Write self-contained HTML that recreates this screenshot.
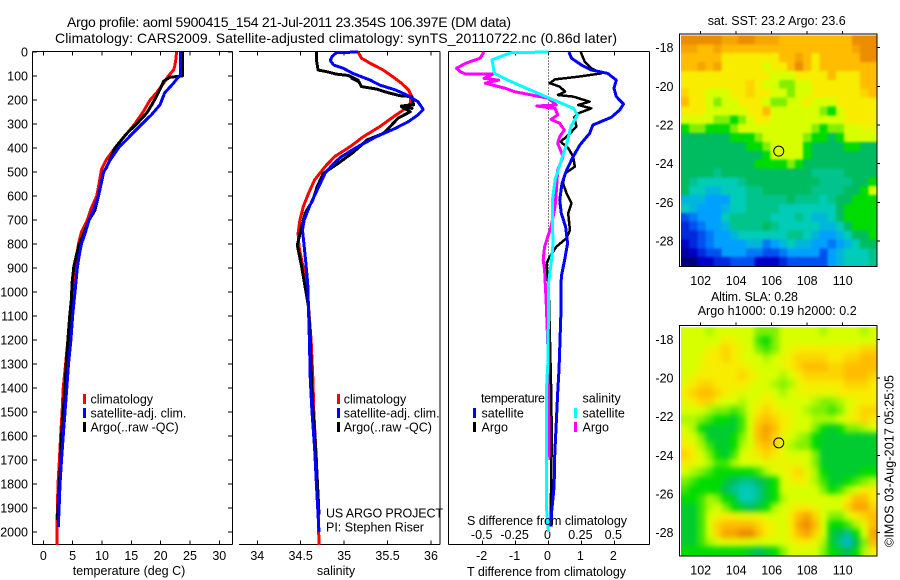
<!DOCTYPE html>
<html lang="en">
<head>
<meta charset="utf-8">
<title>Argo profile 5900415_154</title>
<style>
html,body{margin:0;padding:0;background:#fff;}
svg{display:block;}
text{font-family:"Liberation Sans",sans-serif;font-size:12px;fill:#000;}
.ttl{font-size:14px;}
.lbl{font-size:12.5px;}
</style>
</head>
<body>
<svg id="chart" xmlns="http://www.w3.org/2000/svg" width="900" height="580" viewBox="0 0 900 580">
<defs>
<filter id="sst-blur" x="-10%" y="-10%" width="120%" height="120%" color-interpolation-filters="sRGB"><feGaussianBlur stdDeviation="1.3"/></filter>
<filter id="sla-blur" x="-10%" y="-10%" width="120%" height="120%" color-interpolation-filters="sRGB"><feGaussianBlur stdDeviation="3"/></filter>
<clipPath id="sst-map-clip"><rect x="681" y="35.5" width="195.5" height="230.5"/></clipPath>
<clipPath id="sla-map-clip"><rect x="681" y="327.2" width="195.5" height="228.3"/></clipPath>
</defs>
<rect x="0" y="0" width="900" height="580" fill="#fff"/>
<g id="plots"></g>
<text class="ttl" x="67" y="27" textLength="444">Argo profile: aoml 5900415_154 21-Jul-2011 23.354S 106.397E (DM data)</text>
<text class="ttl" x="55" y="43" textLength="562">Climatology: CARS2009. Satellite-adjusted climatology: synTS_20110722.nc (0.86d later)</text>

<text class="lbl" x="129" y="575" text-anchor="middle">temperature (deg C)</text>
<text class="lbl" x="336" y="575" text-anchor="middle">salinity</text>
<text class="lbl" x="467" y="576" textLength="159">T difference from climatology</text>
<text class="lbl" x="467" y="525" textLength="160">S difference from climatology</text>

<g>
<rect x="83" y="394" width="3" height="10" fill="#f00"/>
<text class="lbl" x="90.5" y="403.5">climatology</text>
<rect x="83" y="408" width="3" height="10" fill="#00f"/>
<text class="lbl" x="90.5" y="417.5">satellite-adj. clim.</text>
<rect x="83" y="422" width="3" height="10" fill="#000"/>
<text class="lbl" x="90.5" y="431.5">Argo(..raw -QC)</text>
</g>
<g>
<rect x="337" y="394" width="3" height="10" fill="#f00"/>
<text class="lbl" x="343.7" y="403.5">climatology</text>
<rect x="337" y="408" width="3" height="10" fill="#00f"/>
<text class="lbl" x="343.7" y="417.5">satellite-adj. clim.</text>
<rect x="337" y="422" width="3" height="10" fill="#000"/>
<text class="lbl" x="343.7" y="431.5">Argo(..raw -QC)</text>
</g>
<g>
<text class="lbl" x="481" y="402.5" textLength="64">temperature</text>
<rect x="473" y="408" width="3" height="10" fill="#00f"/>
<text class="lbl" x="481.5" y="417.5">satellite</text>
<rect x="473" y="422" width="3" height="10" fill="#000"/>
<text class="lbl" x="481.5" y="431.5">Argo</text>
<text class="lbl" x="582.5" y="402.5">salinity</text>
<rect x="574" y="408" width="3" height="10" fill="#0ff"/>
<text class="lbl" x="582.5" y="417.5">satellite</text>
<rect x="574" y="422" width="3" height="10" fill="#f0f"/>
<text class="lbl" x="582.5" y="431.5">Argo</text>
</g>
<text class="lbl" x="326" y="517.5" textLength="117">US ARGO PROJECT</text>
<text class="lbl" x="326" y="531.7">PI: Stephen Riser</text>

<text class="lbl" x="707.7" y="25" textLength="138">sat. SST: 23.2  Argo: 23.6</text>
<text class="lbl" x="711" y="301" textLength="87">Altim. SLA: 0.28</text>
<text class="lbl" x="697.7" y="315" textLength="159">Argo h1000: 0.19 h2000: 0.2</text>
<text class="lbl" transform="translate(893.5 547) rotate(-90)" textLength="172">©IMOS 03-Aug-2017 05:25:05</text>
</svg>
<script>
// ---- shared depth axis ticks
const depthTicks = [0,100,200,300,400,500,600,700,800,900,1000,1100,1200,1300,1400,1500,1600,1700,1800,1900,2000];
const tempTicks = [0,5,10,15,20,25,30];
const salTicks = [34,34.5,35,35.5,36];
const salTickLabels = ['34','34.5','35','35.5','36'];
const tDiffTicks = [-2,-1,0,1,2];
const tDiffLabels = ['-2','-1','0','1','2'];
const sDiffTicks = [-0.5,-0.25,0,0.25,0.5];
const sDiffLabels = ['-0.5','-0.25','0','0.25','0.5'];
const lonTicks = [102,104,106,108,110];
const latTicks = [-18,-20,-22,-24,-26,-28];
const profileLon = [106.397];
const profileLat = [-23.354];

// ---- temperature panel
const tempClimDepth = [0,30,60,75,100,130,170,200,250,300,350,400,450,490,550,600,650,700,750,800,850,900,1000,1100,1200,1300,1400,1500,1600,1700,1800,1900,2000,2054];
const tempClimValue = [22.7,22.6,22.4,22.2,21.3,20.5,19.3,18.2,17,15.6,13.9,12.2,10.7,9.9,9.5,9.1,8.2,7.5,6.5,6,5.7,5.4,5.1,4.6,4.2,3.8,3.4,3.2,2.95,2.75,2.5,2.4,2.3,2.3];
const tempSatDepth = [0,95,105,130,170,220,260,300,350,400,450,500,550,600,650,700,750,800,850,900,1000,1100,1200,1300,1400,1500,1600,1700,1800,1900,1980];
const tempSatValue = [23.35,23.35,23,22.2,20.7,19.9,18.5,16.8,14.8,12.8,11.4,10.3,9.8,9.4,8.7,7.8,7.2,6.5,6.1,5.8,5.4,5,4.7,4.3,4,3.7,3.4,3.1,2.85,2.7,2.55];
const tempArgoDepth = [0,100,105,122,150,185,220,255,300,340,400,480,500,590,660,700,755,810,850,895,965,1025,1100,1200,1300,1400,1500,1600,1700,1800,1900,1950];
const tempArgoValue = [23.7,23.7,21.6,20.5,20,19.3,18.5,17.6,15.9,14.2,12.2,10.8,10.3,9.5,8.8,7.8,6.9,6,5.6,5.2,4.9,4.8,4.5,4.2,3.9,3.7,3.4,3.1,2.95,2.75,2.5,2.4];

// ---- salinity panel
const salClimDepth = [0,26,47,75,103,130,158,179,214,242,269,311,353,394,436,478,533,589,644,700,756,811,867,950,1061,1200,1365,1500,1700,1900,2054];
const salClimValue = [35.16,35.2,35.3,35.45,35.56,35.66,35.74,35.77,35.76,35.68,35.57,35.41,35.22,35.07,34.89,34.78,34.66,34.59,34.53,34.49,34.47,34.48,34.51,34.56,34.59,34.62,34.64,34.65,34.68,34.7,34.71];
const salSatDepth = [0,3,19,36,54,68,89,117,138,158,179,207,239,262,290,318,353,394,436,464,506,575,644,700,742,811,881,964,1068,1200,1365,1500,1650,1800,2000];
const salSatValue = [35.16,34.91,34.86,34.84,34.88,34.99,35.1,35.3,35.41,35.59,35.72,35.85,35.91,35.85,35.74,35.59,35.37,35.16,34.97,34.88,34.78,34.69,34.6,34.54,34.52,34.54,34.56,34.58,34.59,34.6,34.61,34.63,34.66,34.68,34.71];
const salArgoDepth = [0,33,75,82,92,98,117,110,124,144,154,168,182,186,220,225,235,228,249,276,311,339,367,394,422,464,506,561,617,672,728,804,839,894,978,1061,1200,1435,1575,1710,1850,1928];
const salArgoValue = [34.68,34.68,34.7,34.8,34.91,35.05,35.16,35.09,35.17,35.2,35.37,35.49,35.64,35.78,35.8,35.66,35.78,35.66,35.76,35.62,35.53,35.45,35.26,35.18,35.09,34.93,34.76,34.69,34.64,34.55,34.51,34.46,34.48,34.51,34.55,34.59,34.61,34.63,34.66,34.68,34.7,34.71];

// ---- difference panel
const dTempSatDepth = [0,26,54,75,89,117,151,186,217,242,272,304,339,388,436,492,547,617,672,728,797,867,936,1019,1075,1200,1325,1394,1533,1672,1811,1922,1978];
const dTempSatValue = [0.62,0.7,1,1.3,1.8,2.06,1.99,2.06,2.28,2.16,1.91,1.35,1.25,0.95,0.75,0.55,0.41,0.34,0.39,0.52,0.58,0.49,0.39,0.38,0.38,0.35,0.32,0.29,0.24,0.19,0.17,0.09,0.07];
const dTempArgoDepth = [0,40,68,89,103,114,130,144,165,179,186,207,221,235,256,272,311,339,374,401,436,478,506,547,589,631,672,742,776,811,853,881,964,1050,1120,1400,1600,1900,1950];
const dTempArgoValue = [0.98,1.1,1.3,1.6,0.9,0.19,0.04,0.34,0.5,0.29,0.75,1.25,0.9,1.3,0.9,0.78,0.85,0.65,0.37,0.6,0.75,0.8,0.5,0.44,0.55,0.7,0.6,0.65,0.55,0.24,0.04,-0.06,-0.01,0.02,0.03,0.08,0.1,0.07,0.07];
const dSalSatDepth = [0,3,8,33,61,89,117,151,179,207,235,262,311,380,464,533,617,714,797,881,964,1075,1300,1400,1900,2000];
const dSalSatValue = [0,-0.28,-0.31,-0.43,-0.42,-0.41,-0.31,-0.17,-0.05,0.07,0.19,0.22,0.17,0.14,0.09,0.05,0.03,0.03,0.035,0.02,0,0,-0.005,-0.015,-0.015,0];
const dSalArgoDepth = [0,26,47,68,82,92,92,110,117,130,151,165,179,193,221,225,235,262,281,297,325,353,380,436,492,575,644,728,811,867,908,1019,1075,1300,1700];
const dSalArgoValue = [-0.49,-0.52,-0.63,-0.7,-0.67,-0.63,-0.42,-0.49,-0.38,-0.48,-0.33,-0.26,-0.13,0,0.06,-0.09,0.05,0.07,0.02,0.085,0.12,0.085,0.07,0.11,0.07,0.06,0.05,0.02,-0.03,-0.04,-0.03,-0.02,-0.015,0,0.01];

// ---- SST map: colour-scale level per cell (rows north to south)
const sstRows = [
[11,11,11,11,11,10.5,10.5,11,11,10.5,10.5,10.5,10,10,10,10,10,10,10,10,10,11,11,11],
[10.5,10.5,10,10,10.5,10,10,10,10,10,10,10,10,10,10,10,10,10,10,10,10,10.5,11,11],
[10,10,10,10,10,9,9,9,9,9,9,9,10,10,10.5,10,9,10,10,10,10,10,11,11],
[10,10,10.5,10,10.5,9,9,9,9,9,8,9,9,10,11,10,9,10,10,10,10,10,10,10],
[9,9,9,9,9,9,9,9,9,9,9,8,8,8,9,9,9,9,10,9,9,9,10,10],
[9,9,9,9,9,9,9,9,9.5,9,8,8,7,7,8,8,9,9,9,9,9,9,10,10],
[9.5,9,9,8,8,8,9,9,9.5,9,9,8,8,7,8,8,9,9,9,9,9,9,9.5,10],
[10,9,9,8,7,8,8,9,9,9,8,7,7,8,8,9,8,8,8,9,9,9,9,9],
[9,9,9,8,8,8,8,8,9,9,10,8,8,8,8,8,8,7,6,8,9,9,9,9],
[8,8,8,8,7,7,6,7,8,9,9,8,8,8,8,8,8,8,8,8,9,9,9,9],
[6,7,7,6,6,6,7,8,8,8,8,8,8,8,8,8,7,6,7,7,8,8,8.5,8.5],
[5,5,5,5,5,5,6,6,6,7,8,8,8,8,8,7,6,6,5,6,8,8,8,8],
[5,5,5,5,5,5,5,5,6,6,7,8,8,8,8,6,5,5,5,5,6,6,5,5],
[5,5,5,5,5,5,5,5,5,5,6,8,8,8,8,6,5,5,5,5,5,5,5,5],
[5,5,5,5,5,5,5,5,5,6,6,6,6,7,6,5,5,5,5,5,5,5,5,5],
[5,5,5,5,4.5,5,5,5,5,5,5,5,5,5,5,5,4.5,4.5,4.5,4.5,5,5,5,5],
[5,4.5,4,4,4,4,4,4.5,5,5,5,5,5,5,5,5,5,4.5,4.5,4.5,4.5,5,5,6],
[5,4,4,3.5,3.5,4,4,4,4.5,4.5,5,5,5,5,5,5,4.5,4.5,4.5,4.5,5,5,6,8],
[3.5,3.5,3.5,3,3,3,4,4,4.5,4.5,4.5,4.5,4.5,5,4.5,4.5,4.5,4,4.5,5,5,6,6,6],
[4,3.5,3,3,3,3.5,4,4,4.5,4.5,4.5,4.5,4,4,4,4,4,4,4,5,6,6,6,6],
[2,2.5,3,3,3,4,4.5,4.5,4.5,4.5,4.5,4,4,4,4.5,4,3.5,3.5,4,5,6,6,6,6],
[1.5,2,2.5,3,3,3.5,4.5,4.5,4.5,4.5,5,4.5,4,4,4,4,4,3.5,3.5,4,5,6,6,6],
[1.5,1.5,2,2.5,3,3,3.5,4,4,4,4,4,4,4.5,4.5,4,3.5,3,3,3.5,4,5,5,6],
[1,1.5,2,2.5,3,3,3,3,3.5,3.5,2.5,3,3.5,4,3.5,3.5,3,3,2.5,3,3.5,4,5,5],
[0.5,1,1.5,2,2,3,3,3,2.5,2.5,2,2,2.5,3,3,3,3,2,3,3.5,4,4,4,4.5],
[0,0,1,1,1.5,1.5,2,2,2,1,1,1,1.5,2,2,2,2,2,3,3.5,4,4,4,4.5]
];

// ---- sea-level anomaly map: colour-scale level per cell (rows north to south)
const slaRows = [
[8,8,8,7.5,8,8,8,8,8,7,7,7,8,8,8,8,8,7.5,8,8,8,8,7.5,8],
[8,8,8,8,8,9,8.5,8,8,6.5,6,7,8,8,8,8,8,8,8,8,8,8,8,8],
[8,8,8,8.5,9,9.5,9,8.5,8,7,6.5,7,8,8.5,9,9,9,9,9,9,9,9,9.5,9.5],
[8,8,8.5,9,9,9.5,9,8.5,8,8,7.5,8,8.5,9,9.5,9.5,9.5,9.5,9,9,9.5,9.5,10,10],
[8,8,8.5,9,9,9,9,9,8.5,8,8,8,8.5,9,9.5,10,10,10,9.5,9.5,10,10,10,10],
[8,8.5,9,9,9,9,9,9.5,9,8.5,8,8,7.5,8,9,9.5,9.5,9.5,9.5,9.5,10,10,10,9.5],
[8.5,9,9.5,9.5,9,9,9,9,8.5,8,8,7.5,7,7.5,8.5,9,9,9,9,9,9.5,9.5,9.5,9],
[9,9.5,10,10,9.5,9,8.5,8.5,8,8,8.5,8,7.5,8,8.5,8.5,8.5,8.5,8.5,9,9,9,9,9],
[8.5,9,9.5,9.5,8.5,8,8,7.5,8,8.5,9,8.5,8,8,8,8,7.5,7,7,7.5,8,8.5,9,9],
[8,8,8,7.5,7,7,6.5,7,8,9,9.5,9,8.5,8.5,8,7.5,7,7,6.5,7,8,9,9.5,9.5],
[7.5,7.5,7,6.5,6,6,5.5,6.5,8,9.5,10,9.5,9,8.5,8,8,7.5,7.5,7.5,8,8.5,9,9.5,9],
[8,7.5,6,5.5,5.5,5.5,5.5,6.5,8,10,10.5,10,9,8.5,8,8,7,6,5.5,6,7,7,7.5,8],
[8.5,8,7,5.5,5.5,5.5,6,7,8,10,10.5,9.5,8.5,8,7.5,7,6,5.5,5.5,5.5,5.5,5.5,5.5,5.5],
[9,8.5,7.5,6.5,5.5,5.5,6,7.5,8,9.5,10,9.5,8.5,7.5,7,7,6,5.5,5.5,5.5,5.5,5.5,5.5,5.5],
[9.5,9,8,7,6,5.5,6.5,8,8.5,9,9.5,9,8.5,8,8,8,7,5.5,5.5,5.5,5.5,5.5,5.5,5.5],
[9,8.5,8,7.5,6.5,6.5,7.5,8,8,8,8.5,8.5,8.5,8.5,8.5,8,7,5.5,5.5,5.5,5.5,5.5,5.5,5.5],
[8,7.5,7,6.5,6,6,6,6,6,6.5,7.5,8,8.5,9,9.5,8.5,7.5,6,5.5,5.5,5.5,5.5,6,6],
[7,6.5,6,6,6,5.5,5,4.5,4.5,5,5.5,6,8,8.5,9,8.5,7.5,6.5,5.5,5.5,6,6.5,7,7.5],
[6.5,6,6,6,6,5,4.5,4,4,4.5,5.5,6,8,8,8,8,8,7,6,6.5,7.5,8,9,9],
[6,6,6.5,7.5,7,6,5.5,4,4,4.5,5.5,6,7.5,8,8,8,8,8,8,8,9,10,10,9],
[5.5,5.5,6.5,7.5,8,7,6,5.5,5,5.5,6,7.5,8,8.5,9,9,8.5,8,8,8,9.5,10.5,10.5,9.5],
[5.5,5.5,6.5,8,8.5,9,9,8.5,8.5,8.5,8,8,8,9,10,10.5,9.5,8,7,7,8,9,9.5,10],
[5.5,5.5,6.5,8,9.5,10,10,10,10,9.5,9,8.5,8,9,10.5,11,10,8,6,6,6.5,7.5,8.5,10],
[5.5,5.5,6.5,8,9.5,10.5,10.5,11,11,10,9,8.5,8,9,10,10.5,9.5,8,5.5,5,4.5,6,8,10.5],
[5.5,5.5,6.5,7.5,8,8.5,8.5,8.5,8,8,8,8,8,8.5,9,9,8.5,7.5,5.5,4.5,3.5,5,7,10],
[6,6,6,6,6,6,6,6,5.5,5,5.5,6,7,8,8,8,8,7,6,5.5,5,6,7.5,9]
];

const colourStops = ['#00007a','#0000c8','#0050f0','#00a0ff','#00ccb8','#00bc60','#00dc00','#80f000','#d8ff00','#f8ec00','#ffbc00','#ec8c00','#e06400'];

const NS = 'http://www.w3.org/2000/svg';
const plots = document.getElementById('plots');

function make(tag, attrs, text, parent) {
  const el = document.createElementNS(NS, tag);
  for (const k in attrs) el.setAttribute(k, attrs[k]);
  if (text !== undefined) el.textContent = text;
  (parent || plots).appendChild(el);
  return el;
}
function linear(d0, d1, r0, r1) {
  return v => r0 + (v - d0) * (r1 - r0) / (d1 - d0);
}
function hline(x1, x2, y) {
  return make('line', {x1: x1, x2: x2, y1: y, y2: y, stroke: '#000', 'stroke-width': 1, 'shape-rendering': 'crispEdges'});
}
function vline(x, y1, y2) {
  return make('line', {x1: x, x2: x, y1: y1, y2: y2, stroke: '#000', 'stroke-width': 1, 'shape-rendering': 'crispEdges'});
}
function hexToRgb(h) {
  return [parseInt(h.slice(1,3),16), parseInt(h.slice(3,5),16), parseInt(h.slice(5,7),16)];
}
function levelColour(v) {
  const c = Math.max(0, Math.min(colourStops.length - 1, v));
  const i = Math.min(Math.floor(c), colourStops.length - 2);
  const f = c - i;
  const a = hexToRgb(colourStops[i]), b = hexToRgb(colourStops[i + 1]);
  return 'rgb(' + a.map((x, k) => Math.round(x + (b[k] - x) * f)).join(',') + ')';
}

const yDepth = linear(0, 2000, 52, 532);
const PT = 51.5, PB = 544.5;

const xTemp = linear(0, 30, 43.3, 219.3);
const xSal = linear(34, 36, 257.3, 431);
const xDT = linear(0, 2, 548.5, 614.3);
const xDS = linear(0, 0.5, 548.5, 614.3);

function drawSeries(xs, depth, value, colour, width, name) {
  const pts = depth.map((d, i) => xs(value[i]).toFixed(1) + ',' + yDepth(d).toFixed(1)).join(' ');
  const el = make('polyline', {points: pts, fill: 'none', stroke: colour, 'stroke-width': width, 'stroke-linejoin': 'round', 'shape-rendering': 'crispEdges'});
  
  
}

// ---- panel 1 frame and ticks
let el;
el = hline(32.5, 232.5, PT);


el = hline(32.5, 232.5, PB);


el = vline(32.5, PT, PB);


el = vline(232.5, PT, PB);



depthTicks.forEach(d => {
  const y = yDepth(d);
  let t = hline(32.5, 37, y);
  
  
  t = hline(228, 232.5, y);
  
  
  t = make('text', {x: 28, y: y + 4.5, 'text-anchor': 'end', class: 'lbl'}, String(d));
  
  
});
tempTicks.forEach(v => {
  const x = xTemp(v);
  let t = vline(x, PT, PT + 4);
  
  
  t = vline(x, PB - 4, PB);
  
  
  t = make('text', {x: x, y: 560, 'text-anchor': 'middle', class: 'lbl'}, String(v));
  
  
});
drawSeries(xTemp, tempClimDepth, tempClimValue, '#f00', 3, 'temperature-climatology-line');
drawSeries(xTemp, tempArgoDepth, tempArgoValue, '#000', 3, 'temperature-argo-line');
drawSeries(xTemp, tempSatDepth, tempSatValue, '#00f', 3, 'temperature-satellite-line');

// ---- panel 2 frame and ticks (no left axis line)
el = hline(239, 440, PT);


el = hline(239, 440, PB);


el = vline(440, PT, PB);


salTicks.forEach((v, i) => {
  const x = xSal(v);
  let t = vline(x, PT, PT + 4);
  
  
  t = vline(x, PB - 4, PB);
  
  
  t = make('text', {x: x, y: 560, 'text-anchor': 'middle', class: 'lbl'}, salTickLabels[i]);
  
  
});
drawSeries(xSal, salClimDepth, salClimValue, '#f00', 3, 'salinity-climatology-line');
drawSeries(xSal, salArgoDepth, salArgoValue, '#000', 3, 'salinity-argo-line');
drawSeries(xSal, salSatDepth, salSatValue, '#00f', 3, 'salinity-satellite-line');

// ---- panel 3 frame and ticks
el = hline(448.5, 649.5, PT);


el = hline(448.5, 649.5, PB);


el = vline(448.5, PT, PB);


el = vline(649.5, PT, PB);


tDiffTicks.forEach((v, i) => {
  const x = xDT(v);
  let t = vline(x, PT, PT + 4);
  
  
  t = vline(x, PB - 4, PB);
  
  
  t = make('text', {x: x - 1, y: 560, 'text-anchor': 'middle', class: 'lbl'}, tDiffLabels[i]);
  
  
});
sDiffTicks.forEach((v, i) => {
  const t = make('text', {x: xDS(v) - 1, y: 539, 'text-anchor': 'middle', class: 'lbl'}, sDiffLabels[i]);
  
  
});
el = make('line', {x1: xDT(0), x2: xDT(0), y1: PT, y2: yDepth(1000), stroke: '#000', 'stroke-width': 1, 'stroke-dasharray': '1 2', 'shape-rendering': 'crispEdges'});


drawSeries(xDS, dSalArgoDepth, dSalArgoValue, '#f0f', 3, 'salinity-argo-difference-line');
drawSeries(xDT, dTempArgoDepth, dTempArgoValue, '#000', 2.5, 'temperature-argo-difference-line');
drawSeries(xDT, dTempSatDepth, dTempSatValue, '#00f', 3, 'temperature-satellite-difference-line');
drawSeries(xDS, dSalSatDepth, dSalSatValue, '#0ff', 3, 'salinity-satellite-difference-line');

// ---- maps
function drawMap(rows, top, bottom, mapName, blurId) {
  const left = 679.5, right = 877;
  const imgL = 681, imgR = 876.5, imgT = top + 1.5, imgB = bottom - 0.5;
  const xLon = linear(102, 110, 700.7, 842.7);
  const yLat = linear(-18, -28, top + 13.7, top + 206.9);
  const nr = rows.length;
  const cellH = (imgB - imgT) / nr;
  const clipGroup = make('g', {'clip-path': 'url(#' + mapName + '-clip)'});
  
  
  const cellGroup = make('g', {filter: 'url(#' + blurId + ')'}, undefined, clipGroup);
  
  
  const bleed = 10;
  rows.forEach((row, r) => {
    const cellW = (imgR - imgL) / row.length;
    row.forEach((v, c) => {
      // border cells are extended past the clip so the smoothing does not fade at the edge
      const x0 = imgL + c * cellW - (c === 0 ? bleed : 0);
      const x1 = imgL + (c + 1) * cellW + (c === row.length - 1 ? bleed : 0.5);
      const y0 = imgT + r * cellH - (r === 0 ? bleed : 0);
      const y1 = imgT + (r + 1) * cellH + (r === nr - 1 ? bleed : 0.5);
      const cell = make('rect', {x: x0, y: y0, width: x1 - x0, height: y1 - y0, fill: levelColour(v), 'shape-rendering': 'crispEdges'}, undefined, cellGroup);
      
      
    });
  });
  const frame = make('rect', {x: left, y: top, width: right - left, height: bottom - top, fill: 'none', stroke: '#000', 'stroke-width': 1, 'shape-rendering': 'crispEdges'});
  
  
  lonTicks.forEach(v => {
    const x = xLon(v);
    let t = vline(x, top - 3, top);
    
    
    t = make('text', {x: x, y: bottom + 18.5, 'text-anchor': 'middle', class: 'lbl'}, String(v));
    
    
  });
  latTicks.forEach(v => {
    const y = yLat(v);
    let t = hline(right, right + 3, y);
    
    
    t = make('text', {x: 673.5, y: y + 4.5, 'text-anchor': 'end', class: 'lbl'}, String(v));
    
    
  });
  const marker = make('circle', {cx: xLon(profileLon[0]), cy: yLat(profileLat[0]), r: 5, fill: 'none', stroke: '#000', 'stroke-width': 1});
  
  
}
drawMap(sstRows, 34, 266.5, 'sst-map', 'sst-blur');
drawMap(slaRows, 325.7, 556, 'sla-map', 'sla-blur');
</script>
</body>
</html>
